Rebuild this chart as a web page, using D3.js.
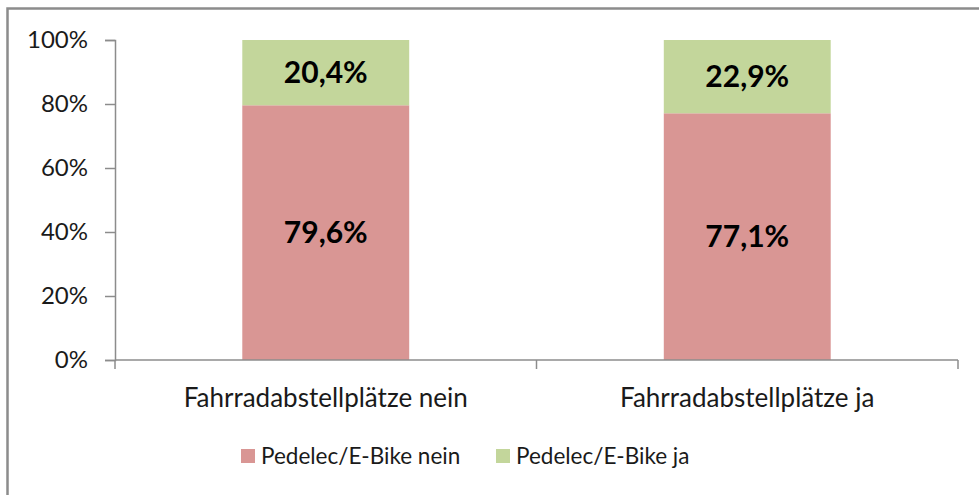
<!DOCTYPE html>
<html>
<head>
<meta charset="utf-8">
<script src="https://cdn.jsdelivr.net/npm/d3@7"></script>
<style>
  body { margin: 0; background: #fff; }
  svg { display: block; font-family: Lato, "Open Sans", sans-serif; }
</style>
</head>
<body>
<div id="chart"></div>
<script>
// Chart data
const categories = ['Fahrradabstellplätze nein', 'Fahrradabstellplätze ja'];
const seriesNames = ['Pedelec/E-Bike nein', 'Pedelec/E-Bike ja'];
const seriesColors = ['#d99694', '#c3d69b'];
const eBikeNein = [79.6, 77.1];
const eBikeJa = [20.4, 22.9];
const yTicks = [0, 20, 40, 60, 80, 100];

const width = 979;
const height = 495;
const margin = { left: 115, right: 21, top: 40, bottom: 135 };

const svg = d3.select('#chart')
    .append('svg')
    .attr('width', width)
    .attr('height', height);

// Outer frame (runs off the right and bottom edges)
svg.append('rect')
    .attr('x', 7.5)
    .attr('y', 8.5)
    .attr('width', width + 10)
    .attr('height', height + 10)
    .attr('fill', 'none')
    .attr('stroke', '#8c8c8c')
    .attr('stroke-width', 2.5);

const xScale = d3.scaleBand()
    .domain(categories)
    .range([margin.left, width - margin.right])
    .padding(0);

const yScale = d3.scaleLinear()
    .domain([0, 100])
    .range([height - margin.bottom, margin.top]);

// Stack the two series
const rows = categories.map((c, i) => ({ cat: c, nein: eBikeNein[i], ja: eBikeJa[i] }));
const stack = d3.stack().keys(['nein', 'ja'])(rows);

const barWidth = xScale.bandwidth() * 0.396;

const layers = svg.selectAll('.layer')
    .data(stack)
    .enter()
    .append('g')
    .attr('class', 'layer')
    .attr('fill', (d, i) => seriesColors[i]);

layers.selectAll('rect')
    .data(d => d)
    .enter()
    .append('rect')
    .attr('x', d => xScale(d.data.cat) + (xScale.bandwidth() - barWidth) / 2)
    .attr('y', d => yScale(d[1]))
    .attr('width', barWidth)
    .attr('height', d => yScale(d[0]) - yScale(d[1]));

// Value labels
layers.selectAll('text')
    .data(d => d)
    .enter()
    .append('text')
    .attr('x', d => xScale(d.data.cat) + xScale.bandwidth() / 2)
    .attr('y', d => (yScale(d[0]) + yScale(d[1])) / 2)
    .attr('dy', '0.36em')
    .attr('text-anchor', 'middle')
    .attr('font-size', 30)
    .attr('font-weight', 'bold')
    .attr('fill', '#000')
    .text(d => d3.format('.1f')(d[1] - d[0]).replace('.', ',') + '%');

// Y axis
const yAxis = svg.append('g')
    .attr('transform', `translate(${margin.left}, 0)`)
    .call(d3.axisLeft(yScale).tickValues(yTicks).tickSize(10).tickPadding(17)
        .tickFormat(d => d + '%'));
yAxis.attr('font-family', null).attr('font-size', null);
yAxis.select('.domain').attr('stroke', '#8c8c8c').attr('stroke-width', 1.5);
yAxis.selectAll('.tick line').attr('stroke', '#8c8c8c').attr('stroke-width', 1.5);
yAxis.selectAll('.tick text')
    .attr('font-size', 24)
    .attr('fill', '#1a1a1a');

// X axis: ticks on the category boundaries
const xBase = height - margin.bottom;
const xAxis = svg.append('g');
xAxis.append('line')
    .attr('x1', margin.left)
    .attr('x2', width - margin.right)
    .attr('y1', xBase)
    .attr('y2', xBase)
    .attr('stroke', '#8c8c8c')
    .attr('stroke-width', 1.5);
const boundaries = categories.map(c => xScale(c)).concat([xScale.range()[1]]);
xAxis.selectAll('.xtick')
    .data(boundaries)
    .enter()
    .append('line')
    .attr('class', 'xtick')
    .attr('x1', d => d)
    .attr('x2', d => d)
    .attr('y1', xBase)
    .attr('y2', xBase + 9)
    .attr('stroke', '#8c8c8c')
    .attr('stroke-width', 1.5);
xAxis.selectAll('.xlabel')
    .data(categories)
    .enter()
    .append('text')
    .attr('class', 'xlabel')
    .attr('x', d => xScale(d) + xScale.bandwidth() / 2)
    .attr('y', xBase + 47)
    .attr('text-anchor', 'middle')
    .attr('font-size', 26)
    .attr('fill', '#1a1a1a')
    .text(d => d);

// Legend
const legendX = [241, 496];
const legend = svg.selectAll('.legend')
    .data(seriesNames)
    .enter()
    .append('g')
    .attr('class', 'legend')
    .attr('transform', (d, i) => `translate(${legendX[i]}, 449)`);
legend.append('rect')
    .attr('width', 14)
    .attr('height', 14)
    .attr('fill', (d, i) => seriesColors[i]);
legend.append('text')
    .attr('x', 20)
    .attr('y', 7)
    .attr('dy', '0.36em')
    .attr('font-size', 22.5)
    .attr('fill', '#1a1a1a')
    .text(d => d);
</script>
</body>
</html>
